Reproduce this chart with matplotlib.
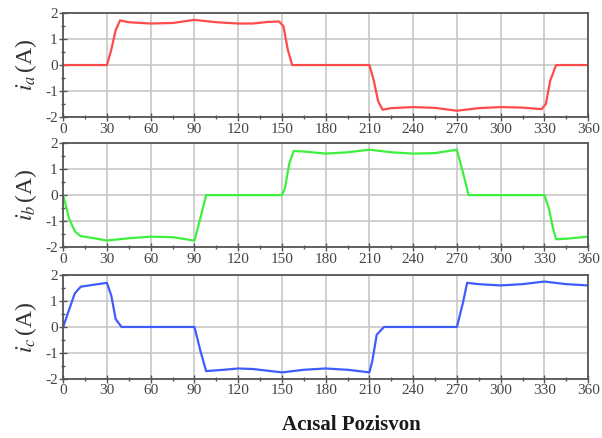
import numpy as np
from matplotlib import pyplot as plt
from matplotlib.ticker import MultipleLocator

# rotor angle (deg) and phase currents (A)
ang_a = [0, 30, 33, 36, 39, 45, 60, 75, 90, 105, 120, 130, 140, 148, 151, 154, 157,
         210, 213, 216, 219, 225, 240, 255, 270, 285, 300, 315, 328, 331, 334, 338, 360]
ia = [0, 0, 0.6, 1.35, 1.72, 1.65, 1.6, 1.62, 1.74, 1.65, 1.6, 1.6, 1.66, 1.68, 1.5, 0.6, 0,
      0, -0.6, -1.4, -1.72, -1.66, -1.62, -1.65, -1.76, -1.66, -1.62, -1.64, -1.7, -1.5, -0.6, 0, 0]

ang_b = [0, 4, 8, 12, 20, 30, 45, 60, 75, 90, 94, 98, 150, 152, 155, 158, 165, 180, 195, 210,
         225, 240, 255, 270, 274, 278, 330, 333, 336, 338, 345, 360]
ib = [0, -0.9, -1.4, -1.58, -1.65, -1.75, -1.66, -1.6, -1.62, -1.75, -0.9, 0, 0, 0.25, 1.2, 1.7,
      1.68, 1.6, 1.65, 1.75, 1.65, 1.6, 1.62, 1.75, 0.9, 0, 0, -0.5, -1.3, -1.7, -1.68, -1.6]

ang_c = [0, 3, 8, 12, 20, 30, 33, 36, 40, 90, 94, 98, 110, 120, 130, 150, 165, 180, 195, 210,
         212, 215, 220, 270, 274, 277, 285, 300, 315, 330, 345, 360]
ic = [0, 0.5, 1.3, 1.55, 1.62, 1.7, 1.2, 0.3, 0, 0, -0.9, -1.7, -1.65, -1.6, -1.62, -1.75,
      -1.65, -1.6, -1.65, -1.75, -1.3, -0.3, 0, 0, 0.9, 1.7, 1.65, 1.6, 1.65, 1.75, 1.65, 1.6]

labels = [r'$i_a\,$(A)', r'$i_b\,$(A)', r'$i_c\,$(A)']
colors = ['#ff4a4a', '#3ef03e', '#3f5cff']

plt.rcParams['font.family'] = ['Liberation Serif', 'DejaVu Serif']
plt.rcParams['mathtext.fontset'] = 'stix'
plt.rcParams['axes.unicode_minus'] = False
fig = plt.figure(figsize=(6.02, 4.38), dpi=100)

# panel positions [left, bottom, width, height]
left, width = 0.105, 0.872
bottoms = [0.733, 0.436, 0.135]
height = 0.237

data = [(ang_a, ia), (ang_b, ib), (ang_c, ic)]
for k in range(3):
    ax = fig.add_axes([left, bottoms[k], width, height])
    x, y = data[k]
    ax.plot(x, y, color=colors[k], lw=1.6)
    ax.set_xlim(0, 360)
    ax.set_ylim(-2, 2)
    ax.xaxis.set_major_locator(MultipleLocator(30))
    ax.xaxis.set_minor_locator(MultipleLocator(15))
    ax.yaxis.set_major_locator(MultipleLocator(1))
    ax.yaxis.set_minor_locator(MultipleLocator(0.5))
    ax.grid(True, which='major', color='#c8c8c8', lw=1.2)
    ax.set_axisbelow(True)
    for s in ax.spines.values():
        s.set_color('#555555')
        s.set_linewidth(1.3)
    ax.tick_params(which='major', direction='inout', length=6, width=1, color='#555555',
                   labelsize=11, labelcolor='#444444', pad=1)
    ax.tick_params(which='minor', direction='inout', length=3, width=1, color='#555555')
    ax.set_ylabel(labels[k], fontsize=17, color='#333333', labelpad=4)

fig.text(0.583, 0.03, 'Acısal Pozisvon', fontsize=15, fontweight='bold', ha='center',
         va='center', color='#1a1a1a')

fig.savefig('out.png', dpi=100)
